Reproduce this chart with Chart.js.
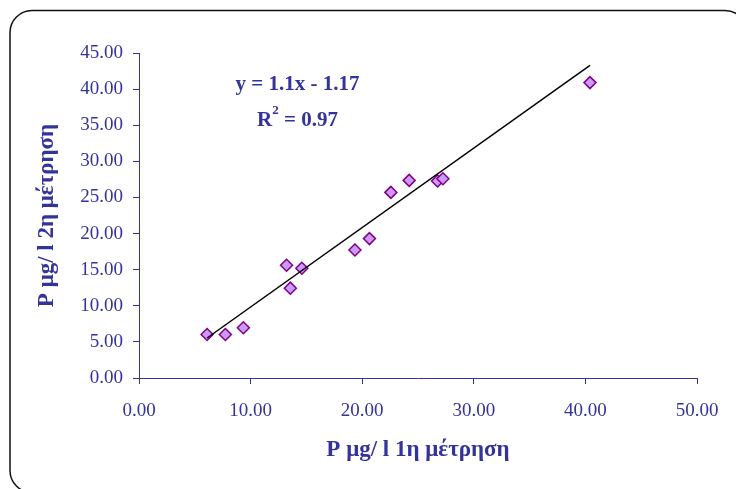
<!DOCTYPE html>
<html>
<head>
<meta charset="utf-8">
<script src="https://cdn.jsdelivr.net/npm/chart.js@4/dist/chart.umd.min.js"></script>
<style>
  body { margin: 0; background: #fff; }
  #wrap { width: 736px; height: 489px; position: relative; }
</style>
</head>
<body>
<div id="wrap"><canvas id="chart"></canvas></div>
<script>
// 1st and 2nd measurement of P (μg/l)
const firstMeasure  = [6.10, 7.74, 9.35, 13.22, 13.56, 14.59, 19.35, 20.65, 22.57, 24.21, 26.75, 27.23, 40.41];
const secondMeasure = [6.03, 6.03, 6.96, 15.61, 12.44, 15.20, 17.73, 19.30, 25.70, 27.36, 27.27, 27.59, 40.90];

// linear trend as printed on the chart
const slope = 1.1;
const intercept = -1.17;
const rSquared = '0.97';
const eqText = 'y = 1.1x - 1.17';

const xTicks = [0, 10, 20, 30, 40, 50];
const yTicks = [0, 5, 10, 15, 20, 25, 30, 35, 40, 45];

const navy = '#333399';
const serif = "'Liberation Serif', 'Times New Roman', serif";

const points = firstMeasure.map((x, i) => ({ x: x, y: secondMeasure[i] }));
const xMin = Math.min(...firstMeasure);
const xMax = Math.max(...firstMeasure);
const trend = [xMin, xMax].map(x => ({ x: x, y: slope * x + intercept }));

// rounded frame around the whole chart
const framePlugin = {
  id: 'frame',
  beforeDraw(chart) {
    const ctx = chart.ctx;
    ctx.save();
    ctx.strokeStyle = '#111';
    ctx.lineWidth = 1.5;
    ctx.beginPath();
    ctx.roundRect(10, 10.5, 737, 482, 22);
    ctx.stroke();
    ctx.restore();
  }
};

// trend equation and R² (superscript drawn by hand)
const eqPlugin = {
  id: 'equation',
  afterDatasetsDraw(chart) {
    const ctx = chart.ctx;
    const xs = chart.scales.x, ys = chart.scales.y;
    const cx = xs.getPixelForValue(14.2);
    ctx.save();
    ctx.fillStyle = navy;
    ctx.font = 'bold 21px ' + serif;
    ctx.textAlign = 'center';
    ctx.textBaseline = 'middle';
    ctx.fillText(eqText, cx, ys.getPixelForValue(40.6));

    const y2 = ys.getPixelForValue(35.9);
    const big = 'bold 21px ' + serif, small = 'bold 13px ' + serif;
    ctx.font = big;
    const wR = ctx.measureText('R').width;
    const rest = ' = ' + rSquared;
    const wRest = ctx.measureText(rest).width;
    ctx.font = small;
    const w2 = ctx.measureText('2').width;
    let x = cx - (wR + w2 + wRest) / 2;
    ctx.textAlign = 'left';
    ctx.textBaseline = 'alphabetic';
    ctx.font = big;
    ctx.fillText('R', x, y2 + 7);
    x += wR;
    ctx.font = small;
    ctx.fillText('2', x, y2 - 5);
    x += w2;
    ctx.font = big;
    ctx.fillText(rest, x, y2 + 7);
    ctx.restore();
  }
};

new Chart(document.getElementById('chart'), {
  type: 'scatter',
  data: {
    datasets: [
      {
        data: trend,
        showLine: true,
        borderColor: '#000',
        borderWidth: 1.5,
        pointRadius: 0,
        order: 0
      },
      {
        data: points,
        pointStyle: 'rectRot',
        pointRadius: 6,
        backgroundColor: '#cc99ff',
        borderColor: '#800080',
        borderWidth: 1.5,
        order: 1
      }
    ]
  },
  options: {
    responsive: true,
    maintainAspectRatio: false,
    animation: false,
    layout: { padding: { left: 0, top: 53, right: 39, bottom: 0 } },
    plugins: { legend: { display: false }, tooltip: { enabled: false } },
    scales: {
      x: {
        type: 'linear',
        min: 0, max: 50,
        afterBuildTicks: s => { s.ticks = xTicks.map(v => ({ value: v })); },
        afterFit: s => { s.height = 111; },
        grid: { drawOnChartArea: false, drawTicks: true, tickLength: 6, color: navy },
        border: { display: true, color: navy, width: 1 },
        ticks: {
          color: navy, padding: 16, maxRotation: 0,
          font: { family: serif, size: 19 },
          callback: v => v.toFixed(2)
        },
        title: {
          display: true, text: 'P μg/ l 1η μέτρηση', color: navy,
          font: { family: serif, size: 23, weight: 'bold' },
          padding: { top: 0, bottom: 25 }
        }
      },
      y: {
        type: 'linear',
        min: 0, max: 45,
        afterBuildTicks: s => { s.ticks = yTicks.map(v => ({ value: v })); },
        afterFit: s => { s.width = 139; },
        grid: { drawOnChartArea: false, drawTicks: true, tickLength: 6, color: navy },
        border: { display: true, color: navy, width: 1 },
        ticks: {
          color: navy, padding: 10,
          font: { family: serif, size: 19 },
          callback: v => v.toFixed(2)
        },
        title: {
          display: true, text: 'P μg/ l 2η μέτρηση', color: navy,
          font: { family: serif, size: 23, weight: 'bold' },
          padding: { top: 33, bottom: 0 }
        }
      }
    }
  },
  plugins: [framePlugin, eqPlugin]
});
</script>
</body>
</html>
